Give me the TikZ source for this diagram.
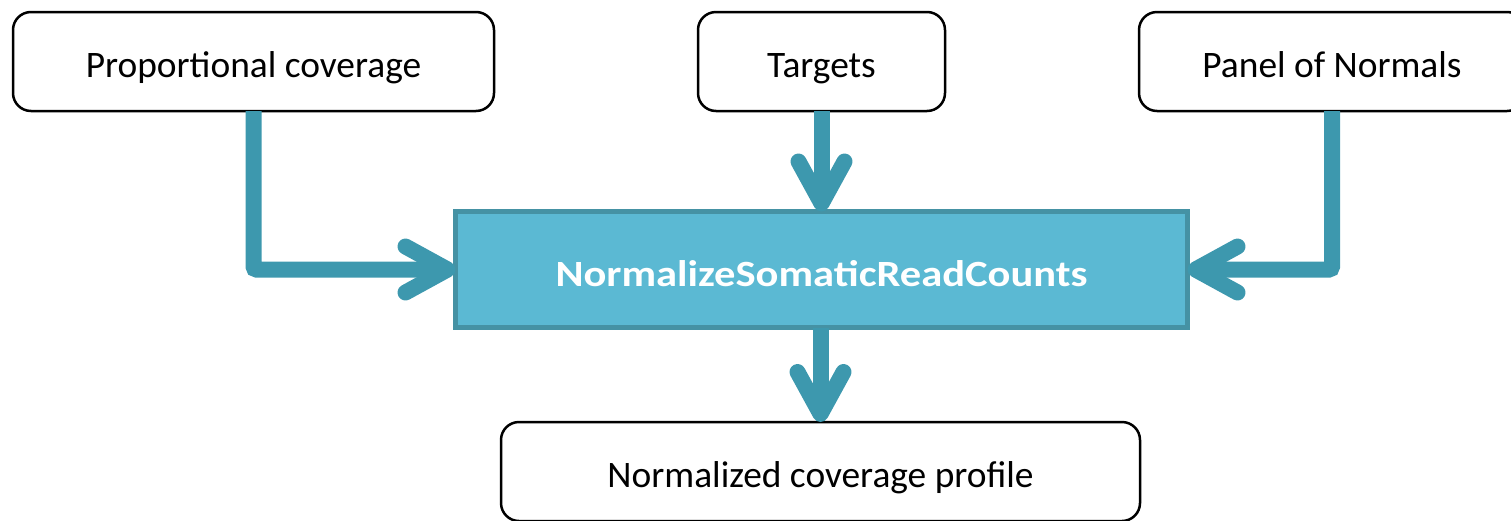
\documentclass[tikz,border=0pt]{standalone}
\usepackage{fontspec}
\setmainfont{Carlito}
\newfontfamily\toolfont[FakeStretch=1.15]{Carlito}
\usetikzlibrary{arrows.meta}
\definecolor{flowcol}{HTML}{3D98AE}
\definecolor{mainfill}{HTML}{5BB9D3}
\definecolor{mainedge}{HTML}{4592A4}
\tikzset{
  iobox/.style={draw=black, line width=2.5pt, rounded corners=18pt, fill=white,
    inner sep=0pt, outer sep=0pt, align=center,
    text height=31pt, text depth=0pt,
    font=\fontsize{37.4}{44}\selectfont},
  toolbox/.style={draw=mainedge, line width=5pt, fill=mainfill, text=white,
    inner sep=0pt, outer sep=0pt, text height=33pt, text depth=0pt,
    font=\fontsize{37}{44}\toolfont\bfseries},
  flow/.style={draw=flowcol, line width=16pt, line cap=butt, rounded corners=3pt,
    -{Straight Barb[length=42pt, width=46pt, round]},
    preaction={draw=black, opacity=0.12, transform canvas={shift={(2pt,-3pt)}}}}
}
\begin{document}
\begin{tikzpicture}[x=1pt, y=-1pt]
  \useasboundingbox (0,0) rectangle (1511,520);
  \clip (0,0) rectangle (1511,520);
  % inputs
  \node[iobox, minimum width=481pt, minimum height=99pt] (prop) at (253.5,61.5) {Proportional coverage};
  \node[iobox, minimum width=247pt, minimum height=99pt] (targets) at (821.5,61.5) {Targets};
  \node[iobox, minimum width=386pt, minimum height=99pt] (pon) at (1332,61.5) {Panel of Normals};
  % tool
  \node[toolbox, minimum width=732pt, minimum height=116pt] (norm) at (821.5,269.5) {NormalizeSomaticReadCounts};
  % output
  \node[iobox, minimum width=639pt, minimum height=99pt] (out) at (820.5,471.5) {Normalized coverage profile};
  % connectors
  \draw[flow] (prop.south) |- (norm.west);
  \draw[flow] (targets.south) -- (norm.north);
  \draw[flow] (pon.south) |- (norm.east);
  \draw[flow] (norm.south -| out.north) -- (out.north);
\end{tikzpicture}
\end{document}
